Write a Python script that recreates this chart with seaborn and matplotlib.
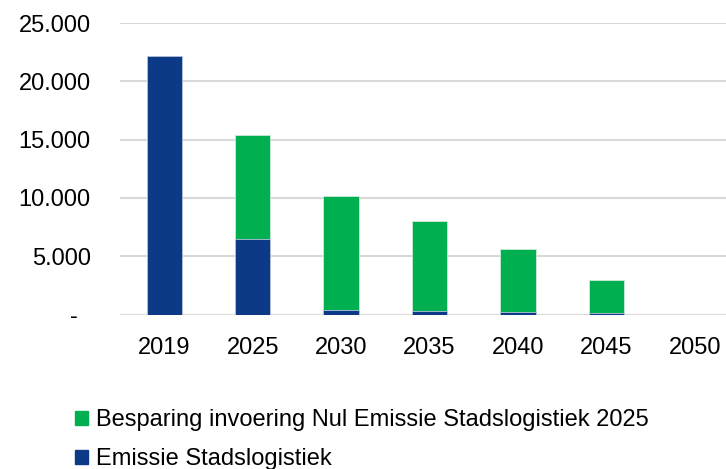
import matplotlib
matplotlib.use("Agg")
import matplotlib.pyplot as plt
import matplotlib.patches as mpatches
import matplotlib.ticker as mticker
import seaborn as sns
import pandas as pd

years = ["2019", "2025", "2030", "2035", "2040", "2045", "2050"]
emissie = [22200, 6500, 400, 310, 200, 100, 0]
besparing = [0, 8900, 9800, 7740, 5450, 2900, 0]
label_besparing = "Besparing invoering Nul Emissie Stadslogistiek 2025"
label_emissie = "Emissie Stadslogistiek"

BLUE = "#0c3a87"
GREEN = "#00b050"

sns.set_theme(style="white")
plt.rcParams["font.family"] = ["Liberation Sans", "DejaVu Sans"]
plt.rcParams["text.color"] = "black"

df = pd.DataFrame({"jaar": years, "emissie": emissie, "besparing": besparing})
df["totaal"] = df["emissie"] + df["besparing"]

fig = plt.figure(figsize=(7.26, 4.69), dpi=100)
# plot area runs slightly past the right edge of the figure
ax = fig.add_axes([120 / 726, 1 - 314.5 / 469, 619 / 726, 291.5 / 469])

# stacked bars: total (green) behind, emission (blue) on top of it
sns.barplot(data=df, x="jaar", y="totaal", color=GREEN, saturation=1,
            width=0.40, ax=ax, edgecolor="#cfe9d8", linewidth=0.6, zorder=3)
sns.barplot(data=df, x="jaar", y="emissie", color=BLUE, saturation=1,
            width=0.40, ax=ax, edgecolor="#b8c4dc", linewidth=0.6, zorder=4)

ax.set_ylim(0, 25000)
ax.set_xlim(-0.5, len(years) - 0.5)
ax.yaxis.set_major_locator(mticker.MultipleLocator(5000))


def fmt(v, pos):
    # accounting style: zero shown as a dash, thousands with a dot
    if v == 0:
        return "-  "
    return f"{int(v):,}".replace(",", ".")


ax.yaxis.set_major_formatter(mticker.FuncFormatter(fmt))
ax.grid(axis="y", color="#d9d9d9", linewidth=1.5, zorder=0)
ax.set_axisbelow(True)
for s in ax.spines.values():
    s.set_visible(False)
ax.set_xlabel("")
ax.set_ylabel("")
ax.tick_params(axis="y", labelsize=17, labelcolor="black", pad=21, length=0)
ax.tick_params(axis="x", labelsize=17, labelcolor="black", pad=16, length=0)

handles = [mpatches.Patch(color=GREEN, label=label_besparing),
           mpatches.Patch(color=BLUE, label=label_emissie)]
fig.legend(handles=handles, loc="upper left", bbox_to_anchor=(66 / 726, 1 - 400 / 469),
           frameon=False, fontsize=17, handlelength=0.55, handleheight=0.55,
           handletextpad=0.3, labelspacing=0.72, borderaxespad=0,
           labelcolor="black")

fig.savefig("out.png", dpi=100)
